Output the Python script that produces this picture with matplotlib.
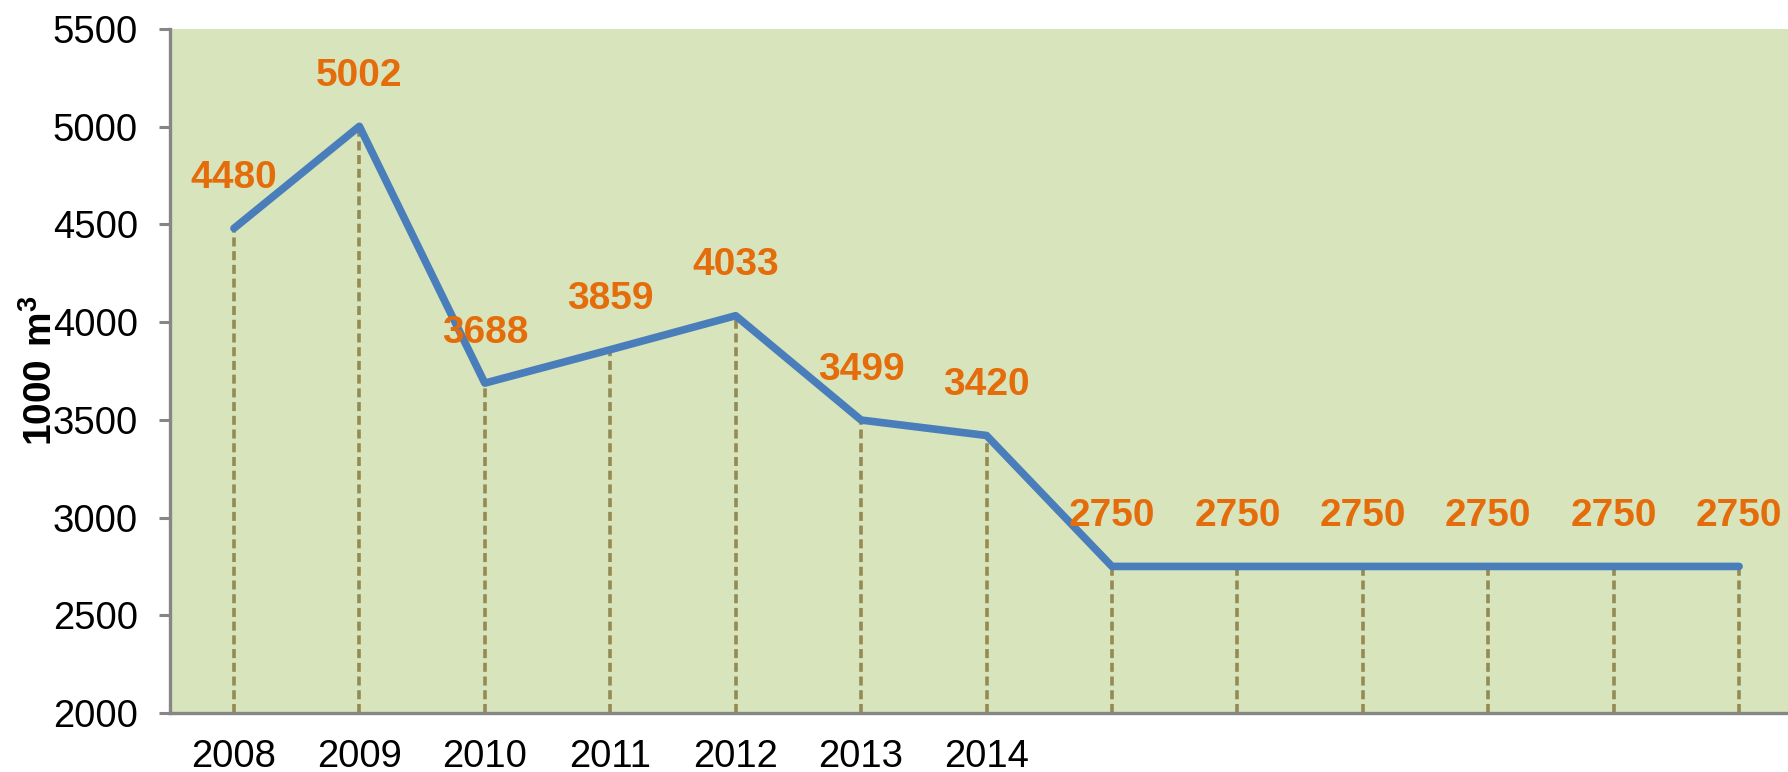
import matplotlib
matplotlib.use("Agg")
import matplotlib.pyplot as plt

years = ["2008", "2009", "2010", "2011", "2012", "2013", "2014", "", "", "", "", "", ""]
values = [4480, 5002, 3688, 3859, 4033, 3499, 3420, 2750, 2750, 2750, 2750, 2750, 2750]
yticks = [2000, 2500, 3000, 3500, 4000, 4500, 5000, 5500]

plt.rcParams['font.family'] = ['Liberation Sans', 'DejaVu Sans']
plt.rcParams['mathtext.fontset'] = 'custom'
plt.rcParams['mathtext.rm'] = 'Liberation Sans'
plt.rcParams['mathtext.bf'] = 'Liberation Sans:bold'

fig = plt.figure(figsize=(17.88, 7.72), dpi=100)
ax = fig.add_axes([170/1788, 1 - 713/772, 1 - 170/1788, (713 - 29)/772])
ax.set_facecolor('#D8E4BC')

x = list(range(len(values)))
ax.vlines(x, 2000, values, colors='#948A54', linewidth=2.6,
          linestyles=(0, (2.5, 1.3)), zorder=2)
ax.plot(x, values, color='#4A7EBB', linewidth=5.5, solid_capstyle='round',
        solid_joinstyle='round', zorder=3)

for xi, v in zip(x, values):
    ax.annotate(str(v), (xi, v), xytext=(0, 29), textcoords='offset points',
                ha='center', va='baseline', fontsize=28, fontweight='bold',
                color='#E46C0A', zorder=4)

ax.set_ylim(2000, 5500)
ax.set_xlim(-0.51, 12.39)
ax.set_yticks(yticks)
ax.set_yticklabels([str(t) for t in yticks], fontsize=27.5)
ax.set_xticks(x)
ax.set_xticklabels(years, fontsize=27.5)

for s in ['top', 'right']:
    ax.spines[s].set_visible(False)
for s in ['left', 'bottom']:
    ax.spines[s].set_color('#868686')
    ax.spines[s].set_linewidth(2.4)

ax.tick_params(axis='y', direction='out', length=8, width=2.2, color='#868686', pad=15)
ax.tick_params(axis='x', length=0, pad=19)

fig.text(41/1788, 1 - 371/772, r"$\mathbf{1000\ m^{3}}$", rotation=90,
         ha='center', va='center', fontsize=28, color='black')

fig.savefig('out.png', dpi=100)
